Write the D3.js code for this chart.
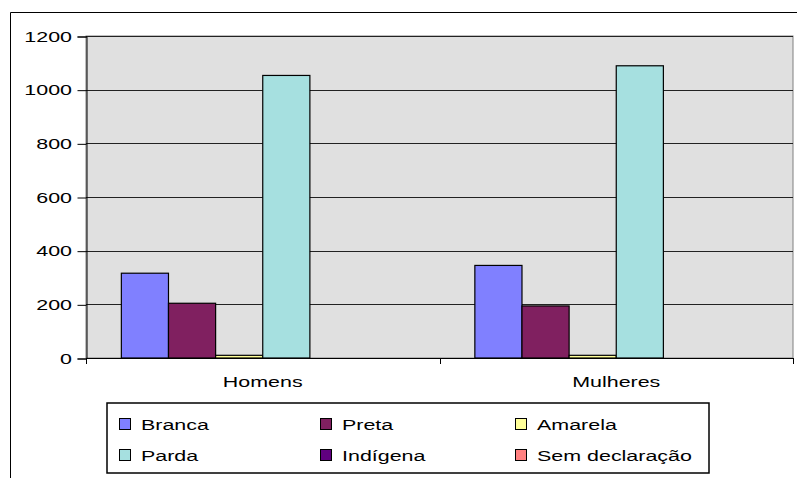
<!DOCTYPE html>
<html>
<head>
<meta charset="utf-8">
<script src="https://cdn.jsdelivr.net/npm/d3@7"></script>
<style>
  body { margin: 0; background: #fff; }
  text { font-family: "Liberation Sans", Arial, sans-serif; font-size: 15px; fill: #000; }
</style>
</head>
<body>
<div id="chart"></div>
<script>
// data
const categories = ['Homens', 'Mulheres'];
const series = ['Branca', 'Preta', 'Amarela', 'Parda', 'Indígena', 'Sem declaração'];
const colors = ['#8080ff', '#802060', '#ffff99', '#a6e0e0', '#600080', '#ff8080'];
const homens = [316, 204, 10, 1053, 0, 0];
const mulheres = [345, 194, 10, 1089, 0, 0];
const yTicks = [0, 200, 400, 600, 800, 1000, 1200];

const width = 797, height = 478;
const plot = { left: 86, right: 793, top: 36, bottom: 358 };
const sx = 1.43; // the original text is drawn wide

const svg = d3.select('#chart').append('svg')
  .attr('width', width)
  .attr('height', height);

// outer chart border (only top and left fall inside the picture)
svg.append('path')
  .attr('d', `M10.5,${height} V12.5 H${width}`)
  .attr('fill', 'none')
  .attr('stroke', '#000');

// plot background
svg.append('rect')
  .attr('x', plot.left).attr('y', plot.top)
  .attr('width', plot.right - plot.left).attr('height', plot.bottom - plot.top)
  .attr('fill', '#e0e0e0')
  .attr('stroke', '#808080');

const y = d3.scaleLinear().domain([0, 1200]).range([plot.bottom, plot.top]);
const x0 = d3.scaleBand().domain(categories).range([plot.left, plot.right]).padding(0);
const x1 = d3.scaleBand().domain(series).range([0, x0.bandwidth()]).paddingInner(0).paddingOuter(0.75);

// gridlines
svg.append('g')
  .selectAll('line')
  .data(yTicks.filter(d => d > 0))
  .join('line')
  .attr('x1', plot.left).attr('x2', plot.right)
  .attr('y1', d => Math.round(y(d)) + 0.5).attr('y2', d => Math.round(y(d)) + 0.5)
  .attr('stroke', '#222');

// wide text helper
function wideText(g, x, yy, str, anchor) {
  return g.append('text')
    .attr('transform', `translate(${x},${yy}) scale(${sx},1)`)
    .attr('text-anchor', anchor)
    .text(str);
}

// y axis
const yAxis = d3.axisLeft(y).tickValues(yTicks).tickSize(9).tickFormat('');
const yg = svg.append('g')
  .attr('transform', `translate(${plot.left + 0.5},0.5)`)
  .call(yAxis);
yg.select('.domain').attr('stroke', '#000');
yg.selectAll('.tick line').attr('stroke', '#000');
yTicks.forEach(t => wideText(svg, 72, y(t) + 5.5, String(t), 'end'));

// bars
const groups = svg.append('g')
  .selectAll('g')
  .data(categories.map((c, i) => ({ cat: c, vals: i === 0 ? homens : mulheres })))
  .join('g')
  .attr('transform', d => `translate(${x0(d.cat)},0)`);

groups.selectAll('rect')
  .data(d => d.vals.map((v, i) => ({ s: series[i], v: v, c: colors[i] })).filter(d => d.v > 0))
  .join('rect')
  .attr('x', d => x1(d.s))
  .attr('y', d => y(d.v))
  .attr('width', x1.bandwidth())
  .attr('height', d => y(0) - y(d.v))
  .attr('fill', d => d.c)
  .attr('stroke', '#000')
  .attr('stroke-width', 1.2);

// x axis
svg.append('line')
  .attr('x1', plot.left).attr('x2', plot.right)
  .attr('y1', plot.bottom + 0.5).attr('y2', plot.bottom + 0.5)
  .attr('stroke', '#000');
const xEdges = [plot.left, x0('Mulheres'), plot.right];
svg.append('g')
  .selectAll('line')
  .data(xEdges)
  .join('line')
  .attr('x1', d => Math.round(d) + 0.5).attr('x2', d => Math.round(d) + 0.5)
  .attr('y1', plot.bottom).attr('y2', plot.bottom + 6)
  .attr('stroke', '#000');
categories.forEach(c => wideText(svg, x0(c) + x0.bandwidth() / 2, 387, c, 'middle'));

// legend
const legend = svg.append('g');
legend.append('rect')
  .attr('x', 107).attr('y', 403)
  .attr('width', 602).attr('height', 70)
  .attr('fill', '#fff')
  .attr('stroke', '#000')
  .attr('stroke-width', 1.5);

const legendCols = [119, 320, 515];
const legendRows = [424, 455];
series.forEach((s, i) => {
  const lx = legendCols[i % 3];
  const ly = legendRows[Math.floor(i / 3)];
  legend.append('rect')
    .attr('x', lx + 0.5).attr('y', ly - 6 + 0.5)
    .attr('width', 11).attr('height', 11)
    .attr('fill', colors[i])
    .attr('stroke', '#000');
  wideText(legend, lx + 22, ly + 5.5, s, 'start');
});
</script>
</body>
</html>
